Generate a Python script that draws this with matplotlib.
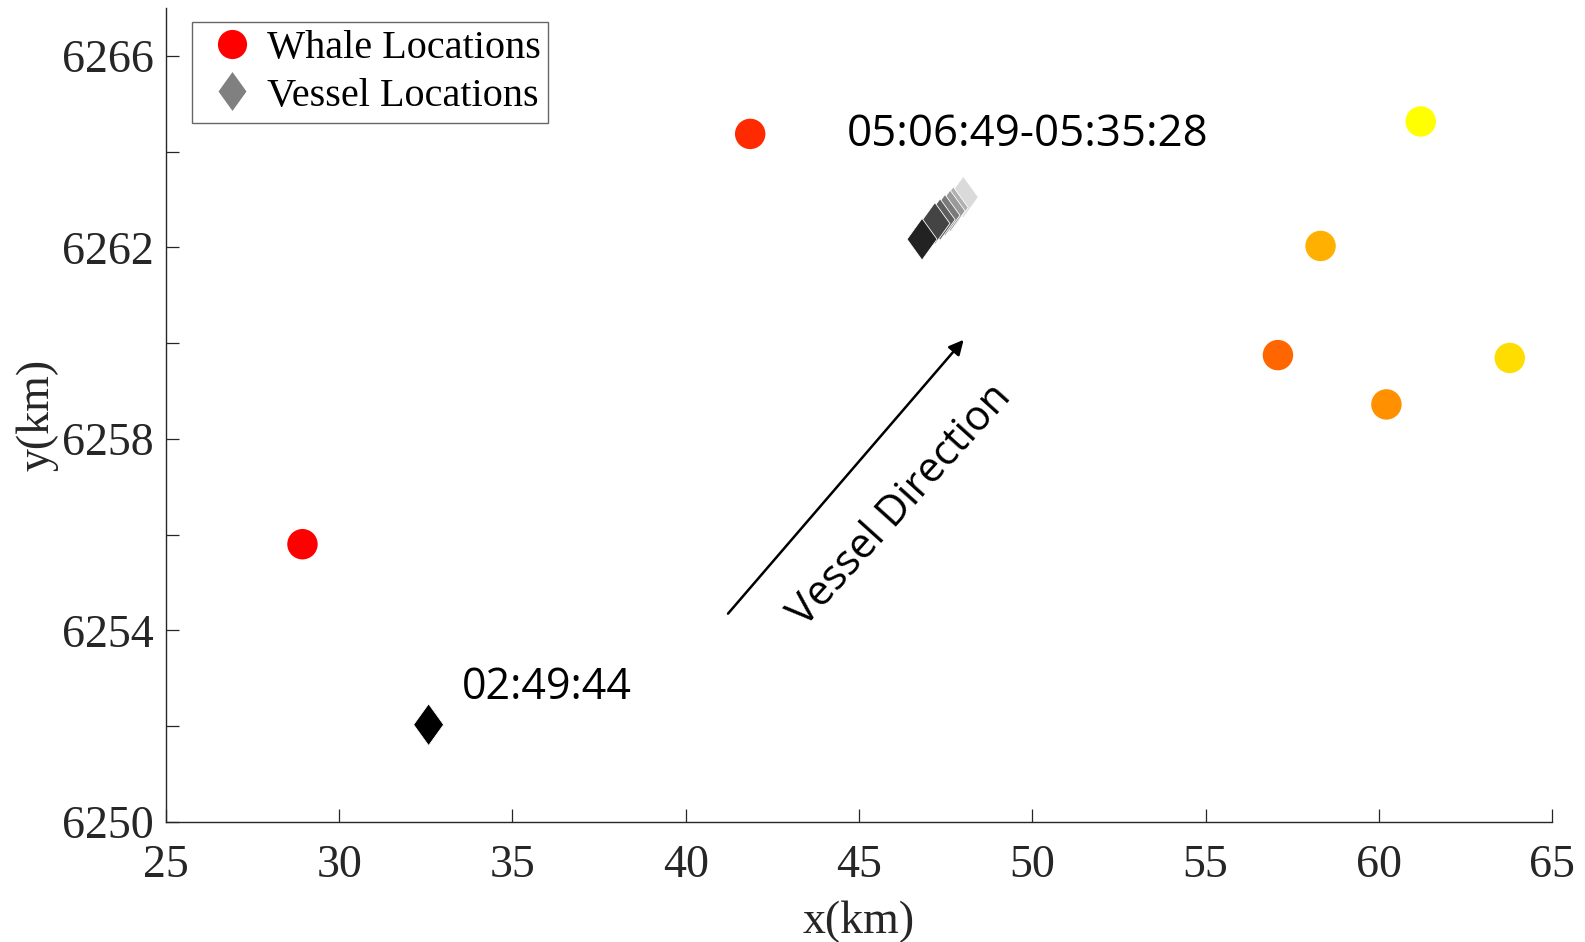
import matplotlib
matplotlib.use("Agg")
import matplotlib.pyplot as plt
from matplotlib.lines import Line2D
from matplotlib.path import Path

# ---- data ----
whale_x = [28.94, 41.86, 57.09, 60.22, 58.32, 63.78, 61.21]
whale_y = [6255.80, 6264.37, 6259.75, 6258.72, 6262.03, 6259.69, 6264.63]
whale_colors = ["#FF0000", "#FF2A00", "#FF6600", "#FF9100", "#FFB000", "#FFDD00", "#FFFF00"]

vessel_x = [48.01, 47.72, 47.63, 47.48, 47.34, 47.19, 46.82, 32.58]
vessel_y = [6263.05, 6262.83, 6262.76, 6262.67, 6262.58, 6262.50, 6262.17, 6252.03]
vessel_colors = ["#DADADA", "#B0B0B0", "#9A9A9A", "#7A7A7A", "#5E5E5E", "#444444", "#222222", "#000000"]

x_ticks = [25, 30, 35, 40, 45, 50, 55, 60, 65]
y_major = [6250, 6254, 6258, 6262, 6266]
y_minor = [6252, 6256, 6260, 6264]

start_label = "02:49:44"
end_label = "05:06:49-05:35:28"
start_pos = (33.55, 6252.8)
end_pos = (44.65, 6264.35)
arrow_start = (41.22, 6254.35)
arrow_end = (48.02, 6260.07)
dir_label_pos = (46.2, 6256.6)

serif = "Liberation Serif"
sans = "Open Sans"
dark = "#262626"

diamond = Path([(0, 1), (0.72, 0), (0, -1), (-0.72, 0), (0, 1)],
               [Path.MOVETO, Path.LINETO, Path.LINETO, Path.LINETO, Path.CLOSEPOLY])

fig = plt.figure(figsize=(15.85, 9.42), dpi=100)
ax = fig.add_axes([0.1047, 0.1275, 0.8745, 0.864])

ax.scatter(whale_x, whale_y, s=480, c=whale_colors, marker="o", linewidths=0, zorder=3)
ax.scatter(vessel_x, vessel_y, s=900, c=vessel_colors, marker=diamond,
           edgecolors="white", linewidths=0.6, zorder=3)

ax.set_xlim(25, 65)
ax.set_ylim(6250, 6267)
ax.set_xticks(x_ticks)
ax.set_yticks(y_major)
ax.set_yticks(y_minor, minor=True)

for s in ["top", "right"]:
    ax.spines[s].set_visible(False)
for s in ["left", "bottom"]:
    ax.spines[s].set_color(dark)
    ax.spines[s].set_linewidth(1.0)

ax.tick_params(which="both", direction="in", length=9.5, width=0.9, color=dark)
ax.tick_params(axis="y", which="both", pad=9)
ax.tick_params(axis="x", which="both", pad=16)
for lab in ax.get_xticklabels() + ax.get_yticklabels():
    lab.set_fontfamily(serif)
    lab.set_fontsize(33)
    lab.set_color(dark)

ax.set_xlabel("x(km)", fontfamily=serif, fontsize=33, color=dark, labelpad=10)
ax.set_ylabel("y(km)", fontfamily=serif, fontsize=33, color=dark, labelpad=2)

# annotations
ax.annotate("", xy=arrow_end, xytext=arrow_start,
            arrowprops=dict(arrowstyle="-|>", color="black", lw=1.8,
                            mutation_scale=22, shrinkA=0, shrinkB=0))
ax.text(*dir_label_pos, "Vessel Direction", fontfamily=sans, fontsize=30,
        rotation=48, rotation_mode="anchor", ha="center", va="center", color="black")
ax.text(*start_pos, start_label, fontfamily=sans, fontsize=31, ha="left", va="center", color="black")
ax.text(*end_pos, end_label, fontfamily=sans, fontsize=31.5, ha="left", va="center", color="black")

handles = [
    Line2D([], [], marker="o", linestyle="none", markersize=21, markerfacecolor="#FF0000",
           markeredgewidth=0),
    Line2D([], [], marker=diamond, linestyle="none", markersize=28, markerfacecolor="#808080",
           markeredgewidth=0),
]
leg = fig.legend(handles, ["Whale Locations", "Vessel Locations"],
                 loc="upper left", bbox_to_anchor=(192 / 1585, 1 - 22 / 942),
                 prop={"family": serif, "size": 29}, frameon=True, fancybox=False,
                 edgecolor="#404040", borderpad=0.2, handlelength=1.6, handletextpad=0.05,
                 labelspacing=0.25, borderaxespad=0)
leg.get_frame().set_linewidth(1.0)
for t in leg.get_texts():
    t.set_color("black")

fig.savefig("out.png", dpi=100)
